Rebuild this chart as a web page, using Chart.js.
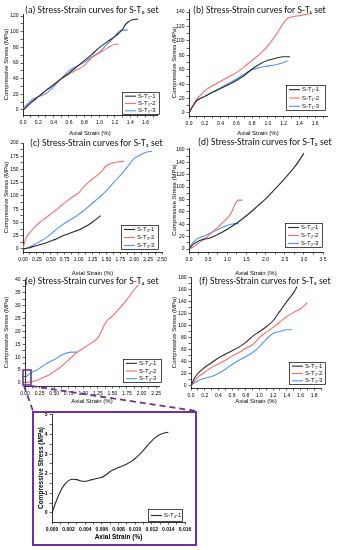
<!DOCTYPE html>
<html>
<head>
<meta charset="utf-8">
<script src="https://cdn.jsdelivr.net/npm/chart.js@4.4.1/dist/chart.umd.min.js"></script>
<style>
  html, body { margin: 0; padding: 0; background: #fff; }
  #page { position: relative; width: 338px; height: 550px; overflow: hidden; }
  #page canvas { position: absolute; }
  .ttl { position: absolute; font-family: Carlito, Lato, sans-serif; font-size: 9.6px; white-space: nowrap; color: #111; line-height: 1; }
  #insetBox { position: absolute; left: 32px; top: 411px; width: 165px; height: 135px; border: 2px solid #7030a0; box-sizing: border-box; }
  #marks { position: absolute; left: 0; top: 0; pointer-events: none; }
</style>
</head>
<body>
<div id="page">
  <canvas id="cA" width="168" height="140" style="left:0;top:0"></canvas>
  <canvas id="cB" width="170" height="140" style="left:168px;top:0"></canvas>
  <canvas id="cC" width="168" height="140" style="left:0;top:140px"></canvas>
  <canvas id="cD" width="170" height="140" style="left:168px;top:140px"></canvas>
  <canvas id="cE" width="168" height="133" style="left:0;top:275px"></canvas>
  <canvas id="cF" width="170" height="133" style="left:168px;top:275px"></canvas>
  <div id="insetBox"></div>
  <canvas id="cI" width="161" height="131" style="left:34px;top:413px"></canvas>

  <div class="ttl" style="left:25px;top:6px">(a) Stress-Strain curves for S-T₀ set</div>
  <div class="ttl" style="left:193px;top:6px">(b) Stress-Strain curves for S-T₁ set</div>
  <div class="ttl" style="left:30px;top:139px">(c) Stress-Strain curves for S-T₃ set</div>
  <div class="ttl" style="left:198px;top:138px">(d) Stress-Strain curves for S-T₂ set</div>
  <div class="ttl" style="left:25px;top:277px">(e) Stress-Strain curves for S-T₄ set</div>
  <div class="ttl" style="left:199px;top:277px">(f) Stress-Strain curves for S-T₅ set</div>

  <svg id="marks" width="338" height="550">
    <rect x="23" y="370" width="8" height="15" fill="none" stroke="#7030a0" stroke-width="1.6"/>
    <line x1="24" y1="386" x2="33" y2="411" stroke="#7030a0" stroke-width="1.8" stroke-dasharray="6,4"/>
    <line x1="31" y1="386" x2="196" y2="411" stroke="#7030a0" stroke-width="1.8" stroke-dasharray="6,4"/>
  </svg>
</div>

<script>
// colours of the three specimens
const BLACK = '#2a2a2a';
const RED = '#ff6b6b';
const BLUE = '#4d95ff';

// (a) S-T0 set  [strain %, stress MPa]
const a_T0_1 = [[0,0],[0.1,9],[0.2,17],[0.3,25],[0.4,32],[0.5,40],[0.6,47],[0.7,55],[0.8,63],[0.9,71],[1.0,80],[1.1,87],[1.2,94],[1.25,98],[1.3,103],[1.33,108],[1.37,112],[1.42,115],[1.5,116]];
const a_T0_2 = [[0,0],[0.05,4],[0.1,9],[0.2,17],[0.3,25],[0.4,33],[0.5,40],[0.6,46],[0.7,51],[0.8,57],[0.85,62],[0.9,67],[1.0,73],[1.1,79],[1.2,84],[1.25,84]];
const a_T0_3 = [[0,2],[0.05,7],[0.1,12],[0.15,15],[0.2,17],[0.3,21],[0.35,25],[0.4,30],[0.5,40],[0.6,50],[0.7,56],[0.8,61],[0.9,68],[1.0,74],[1.1,84],[1.2,94],[1.25,100],[1.3,102],[1.37,102]];

// (b) S-T1 set
const b_T1_1 = [[0,0],[0.05,10],[0.1,17],[0.2,23],[0.3,29],[0.4,34],[0.5,39],[0.6,45],[0.7,52],[0.8,61],[0.9,68],[1.0,73],[1.1,76],[1.2,78],[1.28,78]];
const b_T1_2 = [[0,0],[0.05,10],[0.1,20],[0.15,25],[0.2,31],[0.3,38],[0.4,44],[0.5,50],[0.6,56],[0.7,64],[0.8,73],[0.9,82],[1.0,93],[1.1,108],[1.2,125],[1.25,131],[1.3,133],[1.4,135],[1.5,137],[1.55,138]];
const b_T1_3 = [[0,0],[0.05,10],[0.1,17],[0.2,23],[0.3,29],[0.4,35],[0.5,41],[0.6,47],[0.7,54],[0.8,60],[0.9,63],[1.0,65],[1.1,67],[1.2,70],[1.25,72]];

// (c) S-T3 set
const c_T3_1 = [[0,0],[0.1,2],[0.2,5],[0.3,8],[0.4,11],[0.5,15],[0.6,19],[0.7,24],[0.8,28],[0.9,32],[1.0,36],[1.1,41],[1.2,47],[1.3,55],[1.4,63]];
const c_T3_2 = [[0,0],[0.05,20],[0.1,28],[0.2,40],[0.3,50],[0.4,58],[0.5,66],[0.6,74],[0.7,83],[0.8,91],[0.9,99],[1.0,106],[1.1,118],[1.2,128],[1.3,136],[1.4,145],[1.5,157],[1.6,162],[1.7,164],[1.82,166]];
const c_T3_3 = [[0,0],[0.1,3],[0.2,8],[0.3,14],[0.4,20],[0.5,28],[0.6,37],[0.7,45],[0.8,52],[0.9,58],[1.0,65],[1.1,73],[1.2,82],[1.3,91],[1.4,100],[1.5,110],[1.6,122],[1.7,133],[1.8,145],[1.9,158],[2.0,171],[2.1,177],[2.2,182],[2.3,184],[2.32,184]];

// (d) S-T2 set
const d_T2_1 = [[0,0],[0.1,7],[0.2,11],[0.3,14],[0.4,16],[0.5,17],[0.6,19],[0.7,22],[0.8,25],[1.0,32],[1.2,40],[1.4,49],[1.6,59],[1.8,70],[2.0,81],[2.2,94],[2.4,107],[2.6,121],[2.8,136],[3.0,155]];
const d_T2_2 = [[0,0],[0.1,3],[0.2,7],[0.3,12],[0.4,16],[0.5,21],[0.6,27],[0.7,32],[0.8,38],[0.9,44],[1.0,50],[1.1,58],[1.15,65],[1.2,72],[1.25,77],[1.3,79],[1.4,79]];
const d_T2_3 = [[0,0],[0.1,10],[0.2,16],[0.3,19],[0.4,21],[0.5,24],[0.6,27],[0.7,30],[0.8,33],[0.9,36],[1.0,38],[1.1,40],[1.2,41],[1.3,41]];

// (e) S-T4 set (specimen 1 is the short curve shown enlarged in the inset)
const e_T4_1 = [[0,0],[0.0005,0.6],[0.001,1.1],[0.0015,1.45],[0.002,1.65],[0.0025,1.72],[0.003,1.7],[0.0035,1.63],[0.004,1.62],[0.0045,1.67],[0.005,1.72],[0.0055,1.77],[0.006,1.82],[0.0065,1.95],[0.007,2.12],[0.0075,2.22],[0.008,2.32],[0.0085,2.4],[0.009,2.5],[0.0095,2.62],[0.01,2.78],[0.0105,2.98],[0.011,3.2],[0.0115,3.45],[0.012,3.68],[0.0125,3.87],[0.013,4.0],[0.0135,4.08],[0.014,4.12]];
const e_T4_2 = [[0,0],[0.1,0.5],[0.2,1],[0.3,2],[0.4,3],[0.5,4.5],[0.6,6],[0.7,8],[0.8,10],[0.9,12],[1.0,13.5],[1.1,15],[1.2,16.5],[1.25,17.5],[1.3,19.5],[1.35,22],[1.4,24],[1.5,26],[1.6,28.5],[1.7,31],[1.8,34],[1.9,37],[1.95,38]];
const e_T4_3 = [[0,2],[0.05,3],[0.1,4],[0.2,5],[0.3,6.5],[0.4,8],[0.5,9],[0.6,10.5],[0.7,11.5],[0.8,12],[0.9,12]];

// (f) S-T5 set
const f_T5_1 = [[0,0],[0.05,12],[0.1,20],[0.2,30],[0.3,38],[0.4,46],[0.5,52],[0.6,58],[0.7,64],[0.8,72],[0.9,82],[1.0,90],[1.1,98],[1.2,108],[1.3,124],[1.4,140],[1.5,155],[1.55,165]];
const f_T5_2 = [[0,0],[0.05,7],[0.1,14],[0.2,22],[0.3,30],[0.4,36],[0.5,42],[0.6,49],[0.7,55],[0.8,62],[0.9,68],[1.0,80],[1.1,89],[1.2,97],[1.3,106],[1.4,115],[1.5,122],[1.6,128],[1.7,138]];
const f_T5_3 = [[0,0],[0.1,8],[0.2,12],[0.3,15],[0.4,20],[0.5,27],[0.6,35],[0.7,42],[0.8,48],[0.9,55],[1.0,65],[1.1,77],[1.2,87],[1.3,90],[1.4,93],[1.48,93]];

const TICK_FONT = { family: "'Liberation Sans', Arial, sans-serif", size: 5 };
const TITLE_FONT = { family: "'Liberation Sans', Arial, sans-serif", size: 6 };

// legend drawn as a framed box inside the plot, like Origin does
const boxLegend = {
  id: 'boxLegend',
  afterDraw(chart, args, opts) {
    if (!opts || !opts.box) return;
    const ctx = chart.ctx;
    const [x, y, w, h] = opts.box;
    const sets = chart.data.datasets;
    const row = h / sets.length;
    ctx.save();
    ctx.strokeStyle = '#000';
    ctx.lineWidth = 0.7;
    ctx.strokeRect(x + 0.5, y + 0.5, w, h);
    ctx.font = (opts.size || 6) + "px 'Liberation Sans', 'DejaVu Sans', sans-serif";
    ctx.textBaseline = 'middle';
    sets.forEach((ds, i) => {
      const cy = y + row * (i + 0.5) + 0.5;
      ctx.strokeStyle = ds.borderColor;
      ctx.lineWidth = 1.1;
      ctx.beginPath();
      ctx.moveTo(x + 3, cy);
      ctx.lineTo(x + 14, cy);
      ctx.stroke();
      ctx.fillStyle = '#111';
      ctx.fillText(ds.label, x + 16, cy);
    });
    ctx.restore();
  }
};

function isMajor(v, step) {
  const r = v / step;
  return Math.abs(r - Math.round(r)) < 1e-6;
}

function axis(a, dir, text, bold) {
  return {
    type: 'linear',
    min: a.min,
    max: a.max,
    afterFit(scale) {
      if (dir === 'x') { scale.height = a.size; scale.paddingLeft = 0; scale.paddingRight = 0; }
      else { scale.width = a.size; scale.paddingTop = 0; scale.paddingBottom = 0; }
    },
    border: { display: true, color: '#000', width: 0.8 },
    grid: { display: true, drawOnChartArea: false, drawTicks: true, tickLength: 2.5, tickColor: '#000', tickWidth: 0.6 },
    ticks: {
      stepSize: a.step / 2,
      includeBounds: false,
      autoSkip: false,
      maxRotation: 0,
      padding: 2,
      color: '#000',
      font: bold ? { ...TICK_FONT, weight: 'bold' } : TICK_FONT,
      callback: v => isMajor(v, a.step) ? v.toFixed(a.dec) : ''
    },
    title: {
      display: true,
      text: text,
      color: '#000',
      font: bold ? { ...TITLE_FONT, size: 6.5, weight: 'bold' } : TITLE_FONT,
      padding: { top: 3, bottom: 3 }
    }
  };
}

function makeChart(id, p) {
  const cv = document.getElementById(id);
  const left = parseFloat(cv.style.left) || 0;
  const top = parseFloat(cv.style.top) || 0;
  const lg = p.legend;
  new Chart(cv, {
    type: 'line',
    data: {
      datasets: p.series.map(s => ({
        label: s.label,
        data: s.data.map(d => ({ x: d[0], y: d[1] })),
        borderColor: s.color,
        borderWidth: 1.1,
        pointRadius: 0,
        cubicInterpolationMode: 'monotone',
        fill: false
      }))
    },
    options: {
      responsive: false,
      animation: false,
      devicePixelRatio: 1,
      layout: { padding: { top: p.padTop, right: p.padRight, left: 0, bottom: 0 } },
      plugins: {
        legend: { display: false },
        tooltip: { enabled: false },
        boxLegend: { box: [lg[0] - left, lg[1] - top, lg[2] - lg[0], lg[3] - lg[1]], size: p.legendSize }
      },
      scales: {
        x: axis(p.x, 'x', 'Axial Strain (%)', p.bold),
        y: axis(p.y, 'y', 'Compressive Stress (MPa)', p.bold)
      }
    },
    plugins: [boxLegend]
  });
}

makeChart('cA', {
  padTop: 14, padRight: 11,
  x: { min: 0, max: 1.75, step: 0.2, dec: 1, size: 25 },
  y: { min: -6.4, max: 122.6, step: 20, dec: 0, size: 23 },
  legend: [122, 92, 159, 114],
  series: [
    { label: 'S-T₀-1', data: a_T0_1, color: BLACK },
    { label: 'S-T₀-2', data: a_T0_2, color: RED },
    { label: 'S-T₀-3', data: a_T0_3, color: BLUE }
  ]
});

makeChart('cB', {
  padTop: 9, padRight: 11,
  x: { min: 0, max: 1.75, step: 0.2, dec: 1, size: 24 },
  y: { min: -4.2, max: 144.2, step: 20, dec: 0, size: 21 },
  legend: [286, 85, 325, 110],
  series: [
    { label: 'S-T₁-1', data: b_T1_1, color: BLACK },
    { label: 'S-T₁-2', data: b_T1_2, color: RED },
    { label: 'S-T₁-3', data: b_T1_3, color: BLUE }
  ]
});

makeChart('cC', {
  padTop: 3, padRight: 6,
  x: { min: 0, max: 2.5, step: 0.25, dec: 2, size: 28 },
  y: { min: -5.7, max: 200, step: 25, dec: 0, size: 23 },
  legend: [121, 225, 158, 249],
  series: [
    { label: 'S-T₃-1', data: c_T3_1, color: BLACK },
    { label: 'S-T₃-2', data: c_T3_2, color: RED },
    { label: 'S-T₃-3', data: c_T3_3, color: BLUE }
  ]
});

makeChart('cD', {
  padTop: 8, padRight: 15,
  x: { min: 0, max: 3.5, step: 0.5, dec: 1, size: 28 },
  y: { min: -4.8, max: 163.2, step: 20, dec: 0, size: 21 },
  legend: [285, 223, 322, 247],
  series: [
    { label: 'S-T₂-1', data: d_T2_1, color: BLACK },
    { label: 'S-T₂-2', data: d_T2_2, color: RED },
    { label: 'S-T₂-3', data: d_T2_3, color: BLUE }
  ]
});

makeChart('cE', {
  padTop: 4, padRight: 9,
  x: { min: 0, max: 2.3, step: 0.25, dec: 2, size: 22 },
  y: { min: -1.17, max: 40.4, step: 5, dec: 0, size: 25 },
  legend: [123, 359, 161, 382],
  series: [
    { label: 'S-T₄-1', data: e_T4_1, color: BLACK },
    { label: 'S-T₄-2', data: e_T4_2, color: RED },
    { label: 'S-T₄-3', data: e_T4_3, color: BLUE }
  ]
});

makeChart('cF', {
  padTop: 2, padRight: 17,
  x: { min: 0, max: 1.9, step: 0.2, dec: 1, size: 20 },
  y: { min: -4.2, max: 181, step: 20, dec: 0, size: 23 },
  legend: [289, 362, 325, 384],
  series: [
    { label: 'S-T₅-1', data: f_T5_1, color: BLACK },
    { label: 'S-T₅-2', data: f_T5_2, color: RED },
    { label: 'S-T₅-3', data: f_T5_3, color: BLUE }
  ]
});

makeChart('cI', {
  padTop: 1, padRight: 10, bold: true,
  x: { min: 0, max: 0.016, step: 0.002, dec: 3, size: 22 },
  y: { min: -0.46, max: 5.05, step: 1, dec: 0, size: 18 },
  legend: [148, 509, 182, 521], legendSize: 6,
  series: [
    { label: 'S-T₄-1', data: e_T4_1, color: BLACK }
  ]
});
</script>
</body>
</html>
